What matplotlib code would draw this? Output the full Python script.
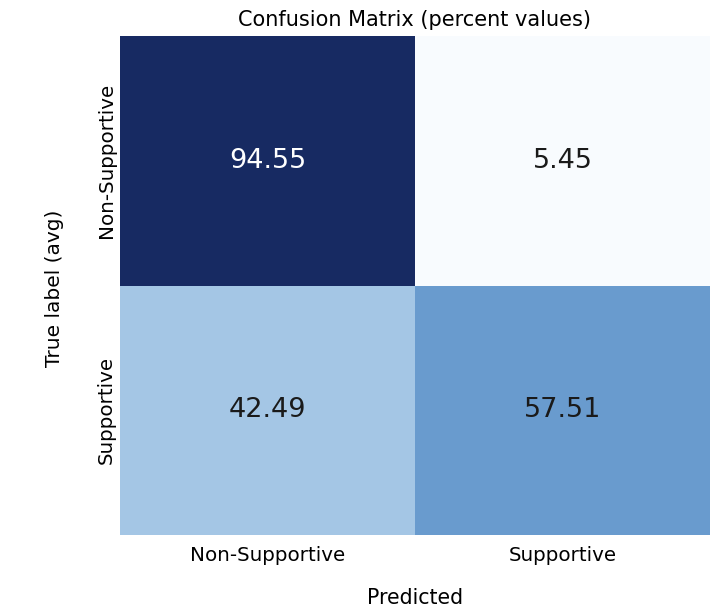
import matplotlib
matplotlib.use("Agg")
import matplotlib.pyplot as plt
from matplotlib.colors import LinearSegmentedColormap
import numpy as np
import seaborn as sns

# averaged confusion matrix, in percent
class_names = ["Non-Supportive", "Supportive"]
row_non_supportive = [94.55, 5.45]
row_supportive = [42.49, 57.51]

cm = np.array([row_non_supportive, row_supportive])

# muted blues, close to the colours in the original figure
blues = LinearSegmentedColormap.from_list(
    "muted_blues",
    [(0.0, "#f8fbfe"), (0.4, "#a9cae7"), (0.6, "#6497cc"), (1.0, "#172a62")])

fig = plt.figure(figsize=(7.2, 6.14), dpi=100)
ax = fig.add_axes([120 / 720, 1 - 535 / 614, 590 / 720, 499 / 614])

sns.heatmap(cm, annot=True, fmt=".2f", cmap=blues, cbar=False,
            vmin=cm.min(), vmax=cm.max(),
            xticklabels=class_names, yticklabels=class_names,
            annot_kws={"fontsize": 19.5}, ax=ax)

# only the darkest cell gets white text
for txt in ax.texts:
    if float(txt.get_text()) > 80:
        txt.set_color("white")
    else:
        txt.set_color("#1a1a1a")

ax.tick_params(axis="both", length=0, labelsize=14.3)
ax.tick_params(axis="x", pad=8)
ax.tick_params(axis="y", pad=3)
plt.setp(ax.get_yticklabels(), rotation=90, va="center")
plt.setp(ax.get_xticklabels(), rotation=0)

ax.set_xlabel("Predicted", fontsize=14.8)
ax.xaxis.set_label_coords(0.5, (535 - 598) / 499)
ax.xaxis.label.set_va("center")
ax.set_ylabel("True label (avg)", fontsize=14.5)
ax.yaxis.set_label_coords((55 - 120) / 590, 0.495)
ax.yaxis.label.set_va("center")

ax.set_title("Confusion Matrix (percent values)", fontsize=15, pad=7)

fig.savefig("out.png", dpi=100)
